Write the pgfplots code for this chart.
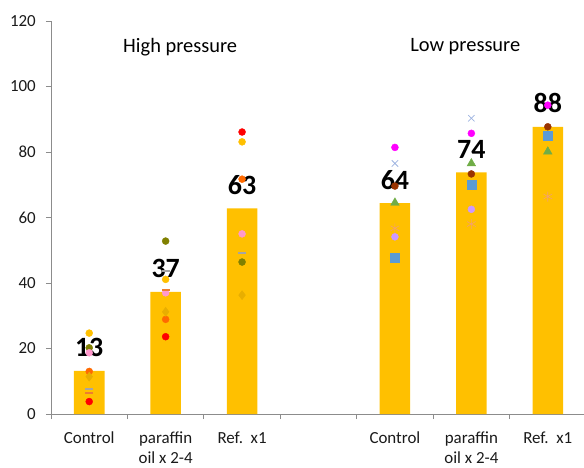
\documentclass[border=0pt]{standalone}
\usepackage{fontspec}
\setmainfont{Carlito}
\usepackage{pgfplots}
\pgfplotsset{compat=1.18}
\definecolor{barc}{HTML}{FFC000}
\definecolor{axgray}{HTML}{8C8C8C}
\definecolor{txt}{HTML}{1A1A1A}
\definecolor{cgold}{HTML}{FFC000}
\definecolor{colive}{HTML}{808000}
\definecolor{cpink}{HTML}{FF99CC}
\definecolor{corange}{HTML}{FF6A00}
\definecolor{cred}{HTML}{FF0000}
\definecolor{cgray}{HTML}{A5A5A5}
\definecolor{codash}{HTML}{ED7D31}
\definecolor{cdiam}{HTML}{E8AE00}
\definecolor{cmag}{HTML}{FF00FF}
\definecolor{clblue}{HTML}{9DB3E0}
\definecolor{cdred}{HTML}{993300}
\definecolor{cgreen}{HTML}{70AD47}
\definecolor{cast}{HTML}{F4A070}
\definecolor{clav}{HTML}{CC99FF}
\definecolor{cblue}{HTML}{5B9BD5}
\begin{document}
\begin{tikzpicture}
\useasboundingbox (0,0) rectangle (584bp,468bp);
\begin{axis}[
  at={(51bp,54bp)}, anchor=south west,
  scale only axis, width=535bp, height=393bp,
  xmin=-0.5, xmax=6.5, ymin=0, ymax=120,
  clip=false,
  axis x line=bottom, axis y line=left,
  axis line style={-, draw=axgray, line width=0.8bp},
  /pgf/number format/assume math mode=true,
  ytick={0,20,...,120},
  xtick={-0.5,0.5,...,6.5},
  xticklabels={{},{},{},{},{},{},{},{}},
  extra x ticks={0,1,2,4,5,6},
  extra x tick labels={Control,{paraffin\\oil x 2-4},{Ref.\ \ x1},Control,{paraffin\\oil x 2-4},{Ref.\ \ x1}},
  extra x tick style={major tick length=0pt, tick label style={align=center, anchor=north, yshift=-18bp, inner sep=0pt, font=\fontsize{17}{20}\selectfont}},
  tick align=outside, major tick length=5bp,
  tick style={draw=axgray, line width=0.8bp},
  tick label style={font=\fontsize{17}{21}\selectfont, text=txt},
  yticklabel style={anchor=east, inner sep=0pt, xshift=-10bp},
]
\addplot[ybar, bar width=0.4, fill=barc, draw=none,
  nodes near coords={\pgfmathprintnumber[fixed,precision=0]{\pgfplotspointmeta}},
  every node near coord/.append style={font=\fontsize{28}{30}\selectfont\bfseries, text=black, anchor=base, yshift=14bp, inner sep=0pt}]
  coordinates {(0,13.2) (1,37.3) (2,62.8) (4,64.4) (5,73.8) (6,87.7)};
% High pressure replicates
\addplot[only marks, mark=*, mark size=3.5bp, color=cgold] coordinates {(0,24.7) (1,41.1) (2,83.1)};
\addplot[only marks, mark=*, mark size=3.5bp, color=colive] coordinates {(0,20.2) (1,52.8) (2,46.4)};
\addplot[only marks, mark=*, mark size=3.5bp, color=cpink] coordinates {(0,18.7) (1,37.0) (2,55.0)};
\addplot[only marks, mark=*, mark size=3.5bp, color=corange] coordinates {(0,13.0) (1,28.9) (2,71.7)};
\addplot[only marks, mark=*, mark size=3.5bp, color=cred] coordinates {(0,3.8) (1,23.6) (2,86.1)};
\addplot[only marks, mark=-, mark size=4bp, line width=2bp, color=cgray] coordinates {(0,7.5) (1,43.8) (2,49.3)};
\addplot[only marks, mark=-, mark size=4bp, line width=2bp, color=codash] coordinates {(0,6.5) (1,38.0)};
\addplot[only marks, mark=diamond*, mark size=4.5bp, color=cdiam] coordinates {(0,11.4) (1,31.2) (2,36.3)};
% Low pressure replicates
\addplot[only marks, mark=*, mark size=3.5bp, color=cmag] coordinates {(4,81.4) (5,85.7) (6,94.3)};
\addplot[only marks, mark=x, mark size=4.5bp, line width=0.8bp, color=clblue] coordinates {(4,76.5) (5,90.3)};
\addplot[only marks, mark=*, mark size=3.5bp, color=cdred] coordinates {(4,69.6) (5,73.3) (6,87.7)};
\addplot[only marks, mark=triangle*, mark size=5bp, color=cgreen] coordinates {(4,64.5) (5,76.5) (6,80.1)};
\addplot[only marks, mark=asterisk, mark size=5bp, line width=0.6bp, color=cast] coordinates {(4,56.7) (5,58.0) (6,66.4)};
\addplot[only marks, mark=*, mark size=3.5bp, color=clav] coordinates {(4,54.1) (5,62.5)};
\addplot[only marks, mark=square*, mark size=4.5bp, color=cblue] coordinates {(4,47.8) (5,69.9) (6,84.9)};
\node[font=\fontsize{20.5}{24}\selectfont, text=black] at (axis cs:1.19,112.1) {High pressure};
\node[font=\fontsize{20.5}{24}\selectfont, text=black] at (axis cs:4.92,112.1) {Low pressure};
\end{axis}
\end{tikzpicture}
\end{document}
